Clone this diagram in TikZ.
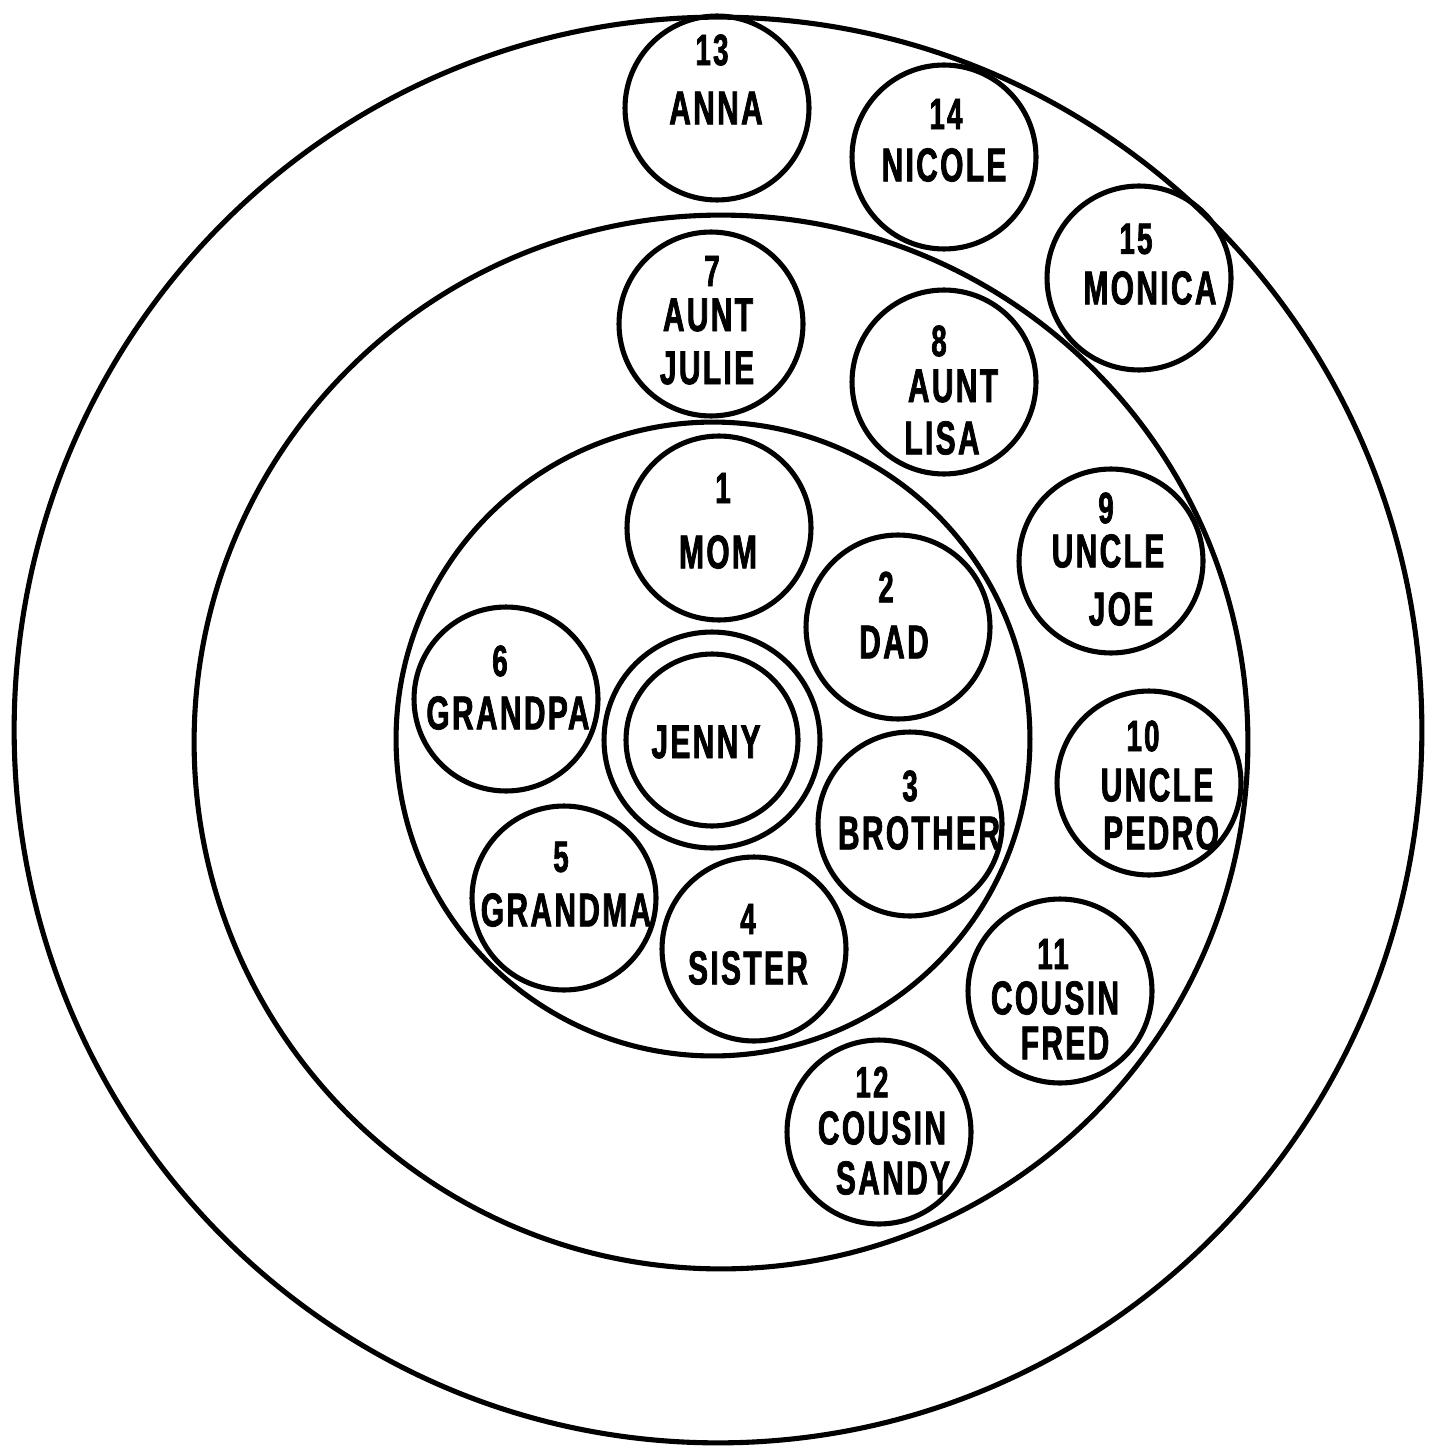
\documentclass[tikz,border=0pt]{standalone}
\usepackage{fontspec}
\setmainfont{Liberation Sans}[FakeStretch=0.63, FakeBold=1.6, LetterSpace=5]
\usetikzlibrary{shapes.geometric}
\tikzset{
  ringline/.style={draw=black, line width=2.9pt, inner sep=0pt},
  person/.style={ringline, circle, minimum size=3.68cm},
  num/.style={inner sep=0pt, font=\fontsize{25}{25}\selectfont\bfseries},
  nm/.style={inner sep=0pt, font=\fontsize{27}{27}\selectfont\bfseries},
}
\begin{document}
\begin{tikzpicture}[x=0.02cm, y=-0.02cm]
\useasboundingbox (0,0) rectangle (1429,1449);
% rings
\node[ringline, ellipse, minimum width=28.16cm, minimum height=28.52cm] (outer) at (718,730) {};
\node[ringline, circle, minimum size=21.08cm] (middle) at (721,742) {};
\node[ringline, circle, minimum size=12.68cm] (inner) at (713,739) {};
% Jenny
\node[ringline, circle, minimum size=4.32cm] (jennyout) at (712,740) {};
\node[ringline, circle, minimum size=3.44cm] (jennyin) at (712,740) {};
\node[nm] (tjenny) at (706,742) {JENNY};
% person circles
\node[person] (c1) at (719,528) {};
\node[person] (c2) at (898,627) {};
\node[person] (c3) at (910,824) {};
\node[person] (c4) at (754,949) {};
\node[person] (c5) at (564,898) {};
\node[person] (c6) at (506,699) {};
\node[person] (c7) at (711,324) {};
\node[person] (c8) at (944,382) {};
\node[person] (c9) at (1111,561) {};
\node[person] (c10) at (1149,783) {};
\node[person] (c11) at (1060,991) {};
\node[person] (c12) at (879,1132) {};
\node[person] (c13) at (717,108) {};
\node[person] (c14) at (944,157) {};
\node[person] (c15) at (1139,278) {};
% labels
\node[num] (n1) at (723,488) {1};
\node[nm]  (m1) at (718,552) {MOM};
\node[num] (n2) at (886,587) {2};
\node[nm]  (m2) at (894,642) {DAD};
\node[num] (n3) at (910,786) {3};
\node[nm]  (m3) at (919,833) {BROTHER};
\node[num] (n4) at (748,919) {4};
\node[nm]  (m4) at (748,968) {SISTER};
\node[num] (n5) at (561,857) {5};
\node[nm]  (m5) at (566,910) {GRANDMA};
\node[num] (n6) at (500,661) {6};
\node[nm]  (m6) at (508,713) {GRANDPA};
\node[num] (n7) at (712,271) {7};
\node[nm]  (m7a) at (708,315) {AUNT};
\node[nm]  (m7b) at (707,368) {JULIE};
\node[num] (n8) at (939,341) {8};
\node[nm]  (m8a) at (953,386) {AUNT};
\node[nm]  (m8b) at (942,438) {LISA};
\node[num] (n9) at (1106,508) {9};
\node[nm]  (m9a) at (1108,551) {UNCLE};
\node[nm]  (m9b) at (1121,609) {JOE};
\node[num] (n10) at (1143,736) {10};
\node[nm]  (m10a) at (1157,785) {UNCLE};
\node[nm]  (m10b) at (1161,833) {PEDRO};
\node[num] (n11) at (1053,954) {11};
\node[nm]  (m11a) at (1055,998) {COUSIN};
\node[nm]  (m11b) at (1065,1043) {FRED};
\node[num] (n12) at (872,1082) {12};
\node[nm]  (m12a) at (882,1128) {COUSIN};
\node[nm]  (m12b) at (893,1178) {SANDY};
\node[num] (n13) at (712,50) {13};
\node[nm]  (m13) at (716,108) {ANNA};
\node[num] (n14) at (946,114) {14};
\node[nm]  (m14) at (944,165) {NICOLE};
\node[num] (n15) at (1136,239) {15};
\node[nm]  (m15) at (1150,288) {MONICA};
\end{tikzpicture}
\end{document}
